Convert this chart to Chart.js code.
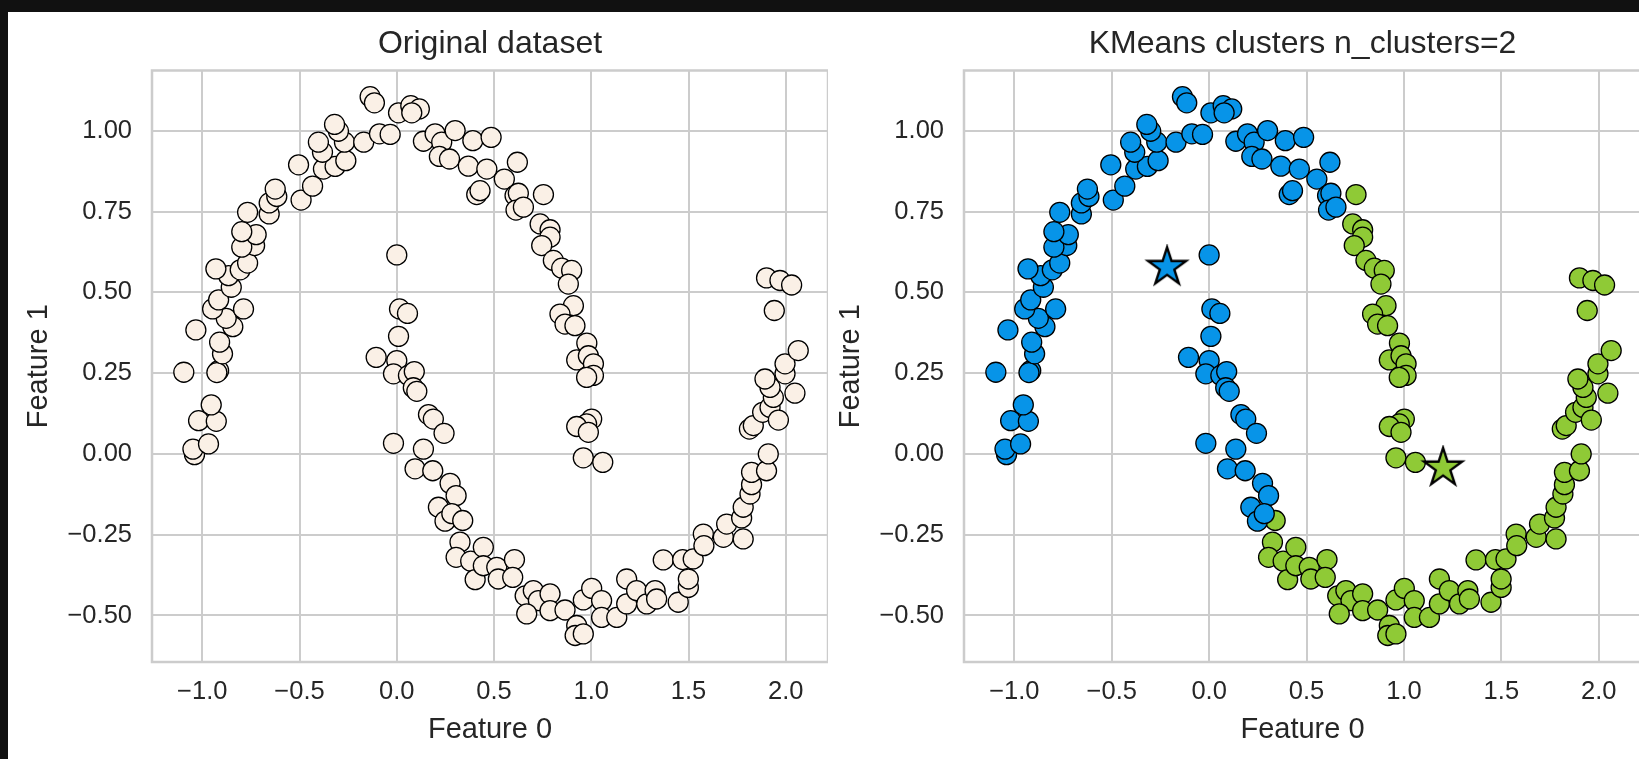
<!DOCTYPE html>
<html>
<head>
<meta charset="utf-8">
<script src="https://cdn.jsdelivr.net/npm/chart.js@4.4.1/dist/chart.umd.min.js"></script>
<style>
html, body { margin: 0; padding: 0; background: #111111; overflow: hidden; width: 1639px; height: 759px; }
#sheet { position: absolute; left: 8px; top: 12px; width: 1631px; height: 747px; background: #ffffff; }
canvas { position: absolute; top: 0; }
#left { left: 0px; }
#right { left: 812px; }
</style>
</head>
<body>
<div id="sheet">
  <canvas id="left" width="820" height="747"></canvas>
  <canvas id="right" width="821" height="747"></canvas>
</div>
<script>
// Axis setup
var xTicks = [-1.0, -0.5, 0.0, 0.5, 1.0, 1.5, 2.0];
var yTicks = [-0.50, -0.25, 0.00, 0.25, 0.50, 0.75, 1.00];
var xRange = [-1.2585, 2.217];
var yRange = [-0.644, 1.187];
var titles = ['Original dataset', 'KMeans clusters n_clusters=2'];
var axisNames = ['Feature 0', 'Feature 1'];

// Cluster 0 (blue) - outer moon left/top part + inner moon upper part
var blueX = [-1.040,-1.048,-0.968,-1.019,-0.928,-0.954,-1.095,-0.916,-0.925,-0.896,
	-0.911,-1.033,-0.843,-0.877,-0.788,-0.947,-0.916,-0.851,-0.865,-0.930,
	-0.805,-0.767,-0.731,-0.797,-0.723,-0.797,-0.767,-0.656,-0.656,-0.617,
	-0.625,-0.492,-0.433,-0.505,-0.377,-0.317,-0.262,-0.382,-0.403,-0.269,
	-0.300,-0.320,-0.170,-0.089,-0.034,-0.137,-0.115,0.009,0.072,0.116,
	0.077,0.137,0.197,0.231,0.300,0.391,0.485,0.219,0.271,0.368,
	0.463,0.553,0.620,0.411,0.428,0.608,0.625,0.613,0.651,
	0.000,0.014,0.055,0.009,-0.106,0.000,-0.017,0.060,0.090,0.085,
	0.103,0.163,0.188,0.243,-0.017,0.137,0.094,0.185,0.274,0.305,
	0.214,0.248,0.283];
var blueY = [-0.002,0.015,0.031,0.103,0.101,0.152,0.253,0.258,0.252,0.310,
	0.346,0.384,0.394,0.420,0.449,0.449,0.477,0.516,0.552,0.573,
	0.570,0.591,0.645,0.640,0.679,0.688,0.748,0.743,0.777,0.797,
	0.820,0.786,0.829,0.895,0.882,0.890,0.908,0.934,0.965,0.965,
	0.999,1.020,0.965,0.991,0.989,1.106,1.087,1.056,1.078,1.068,
	1.056,0.968,0.991,0.965,1.001,0.970,0.980,0.921,0.913,0.891,
	0.882,0.851,0.903,0.803,0.815,0.800,0.807,0.755,0.764,
	0.616,0.449,0.435,0.364,0.299,0.289,0.248,0.243,0.255,0.205,
	0.194,0.122,0.108,0.064,0.033,0.015,-0.046,-0.052,-0.091,-0.129,
	-0.165,-0.208,-0.185];

// Cluster 1 (green) - outer moon right side + inner moon lower part
var greenX = [0.754,0.737,0.788,0.788,0.745,0.805,0.848,0.899,0.882,0.908,
	0.839,0.865,0.916,0.977,0.925,0.985,1.011,1.011,0.976,1.002,
	0.976,0.925,0.985,0.959,1.059,
	0.339,0.325,0.305,0.380,0.403,0.445,0.445,0.514,0.522,0.605,
	0.596,0.660,0.702,0.728,0.668,0.788,0.788,0.865,0.925,0.917,
	0.959,0.959,1.002,1.053,1.053,1.131,1.182,1.182,1.233,1.285,
	1.328,1.336,1.447,1.499,1.499,1.370,1.470,1.524,1.576,1.579,
	1.679,1.696,1.773,1.781,1.781,1.816,1.824,1.824,1.901,1.910,
	1.813,1.833,1.881,1.919,1.962,1.936,1.919,1.893,1.996,1.996,
	2.047,2.064,1.941,1.901,1.970,2.030];
var greenY = [0.803,0.712,0.694,0.671,0.645,0.599,0.575,0.568,0.526,0.459,
	0.433,0.402,0.397,0.343,0.291,0.304,0.279,0.243,0.237,0.108,
	0.093,0.085,0.067,-0.012,-0.026,
	-0.206,-0.273,-0.320,-0.332,-0.389,-0.289,-0.346,-0.351,-0.387,-0.327,
	-0.382,-0.439,-0.423,-0.454,-0.495,-0.433,-0.485,-0.483,-0.531,-0.562,
	-0.557,-0.452,-0.416,-0.454,-0.506,-0.506,-0.387,-0.464,-0.423,-0.464,
	-0.423,-0.449,-0.459,-0.413,-0.387,-0.328,-0.327,-0.325,-0.248,-0.284,
	-0.258,-0.217,-0.198,-0.263,-0.165,-0.124,-0.095,-0.057,-0.052,0.000,
	0.077,0.088,0.129,0.144,0.105,0.175,0.206,0.232,0.248,0.279,
	0.188,0.320,0.444,0.545,0.537,0.523];

// KMeans centers
var centerX = [-0.216, 1.201];
var centerY = [0.578, -0.043];

var TEXT = '#262626';
var GRID = '#cccccc';
var LINEN = '#faf0e6';
var BLUE = '#0794e8';
var GREEN = '#8fca36';

Chart.defaults.font.family = "'Liberation Sans', Arial, sans-serif";

function points(xs, ys) {
	var out = [];
	for (var i = 0; i < xs.length; i++) out.push({x: xs[i], y: ys[i]});
	return out;
}

function fmt(v, digits) {
	return v.toFixed(digits).replace('-', '\u2212');
}

// 5 pointed star marker
function starImage(fill) {
	var size = 46, c = document.createElement('canvas');
	c.width = size; c.height = size;
	var g = c.getContext('2d');
	var cx = size / 2, cy = size / 2, R = 20, r = R * 0.382;
	g.beginPath();
	for (var i = 0; i < 10; i++) {
		var a = -Math.PI / 2 + i * Math.PI / 5;
		var rad = (i % 2) ? r : R;
		g.lineTo(cx + rad * Math.cos(a), cy + rad * Math.sin(a));
	}
	g.closePath();
	g.fillStyle = fill;
	g.fill();
	g.lineWidth = 2.4;
	g.lineJoin = 'miter';
	g.strokeStyle = '#000000';
	g.stroke();
	return c;
}

var framePlugin = {
	id: 'frame',
	afterDatasetsDraw: function(chart) {
		var a = chart.chartArea, ctx = chart.ctx;
		ctx.save();
		ctx.strokeStyle = GRID;
		ctx.lineWidth = 2.5;
		ctx.strokeRect(a.left, a.top, a.right - a.left, a.bottom - a.top);
		ctx.restore();
	}
};

function scatterSet(data, fill, order) {
	return {
		data: data,
		order: order,
		pointRadius: 10,
		pointHoverRadius: 10,
		pointBorderWidth: 1.3,
		pointBorderColor: '#000000',
		pointBackgroundColor: fill,
		showLine: false
	};
}

function makeOptions(title) {
	return {
		responsive: false,
		animation: false,
		events: [],
		layout: { padding: 0, autoPadding: false },
		plugins: {
			legend: { display: false },
			tooltip: { enabled: false },
			title: {
				display: true,
				text: title,
				fullSize: false,
				color: TEXT,
				font: { size: 32, weight: 'normal' },
				padding: { top: 13, bottom: 7.1 }
			}
		},
		scales: {
			x: {
				type: 'linear',
				min: xRange[0],
				max: xRange[1],
				afterBuildTicks: function(s) { s.ticks = xTicks.map(function(v) { return {value: v}; }); },
				afterFit: function(s) { s.height = 97; s.paddingLeft = 0; s.paddingRight = 0; },
				ticks: { padding: 15, color: TEXT, font: { size: 25.5 }, callback: function(v) { return fmt(v, 1); } },
				grid: { color: GRID, lineWidth: 2, drawTicks: false },
				border: { display: false },
				title: { display: true, text: axisNames[0], color: TEXT, font: { size: 29 }, padding: { top: 0, bottom: 11.6 } }
			},
			y: {
				type: 'linear',
				min: yRange[0],
				max: yRange[1],
				afterBuildTicks: function(s) { s.ticks = yTicks.map(function(v) { return {value: v}; }); },
				afterFit: function(s) { s.width = 144; s.paddingTop = 0; s.paddingBottom = 0; },
				ticks: { padding: 20, color: TEXT, font: { size: 25.5 }, callback: function(v) { return fmt(v, 2); } },
				grid: { color: GRID, lineWidth: 2, drawTicks: false },
				border: { display: false },
				title: { display: true, text: axisNames[1], color: TEXT, font: { size: 29 }, padding: { top: 13.3, bottom: 0 } }
			}
		}
	};
}

//Left: original data
new Chart(document.getElementById('left'), {
	type: 'scatter',
	data: {
		datasets: [
			scatterSet(points(blueX.concat(greenX), blueY.concat(greenY)), LINEN, 1)
		]
	},
	options: makeOptions(titles[0]),
	plugins: [framePlugin]
});

//Right: kmeans clusters with centers
new Chart(document.getElementById('right'), {
	type: 'scatter',
	data: {
		datasets: [
			{
				data: points(centerX, centerY),
				order: 0,
				pointStyle: [starImage(BLUE), starImage(GREEN)],
				pointRadius: 20,
				showLine: false
			},
			scatterSet(points(blueX, blueY), BLUE, 1),
			scatterSet(points(greenX, greenY), GREEN, 2)
		]
	},
	options: makeOptions(titles[1]),
	plugins: [framePlugin]
});
</script>
</body>
</html>
